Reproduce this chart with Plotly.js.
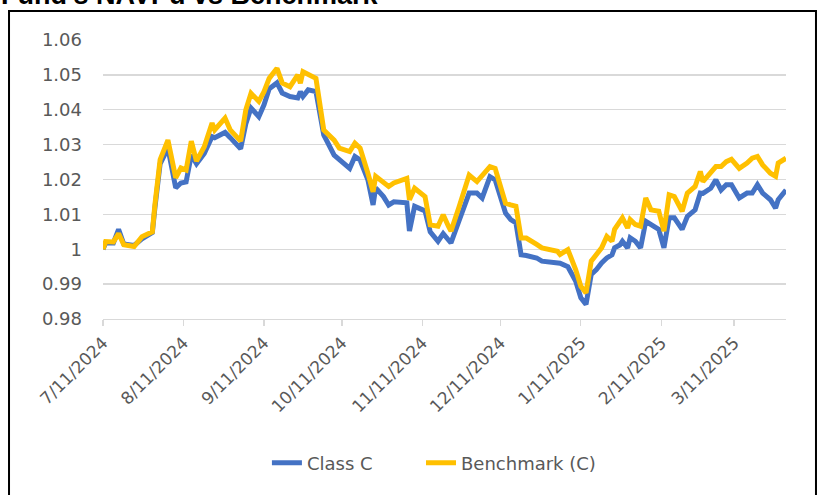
<!DOCTYPE html>
<html>
<head>
<meta charset="utf-8">
<script src="https://cdn.plot.ly/plotly-3.0.1.min.js"></script>
<style>
  html, body { margin: 0; padding: 0; background: #ffffff; }
  #chart { width: 827px; height: 495px; }
</style>
</head>
<body>
<div id="chart"></div>
<script>
const dates = ['2024-07-11','2024-07-12','2024-07-15','2024-07-17','2024-07-19','2024-07-23','2024-07-26','2024-07-30','2024-07-31',
'2024-08-02','2024-08-05','2024-08-08','2024-08-10','2024-08-12','2024-08-14','2024-08-16','2024-08-19','2024-08-22','2024-08-23','2024-08-27','2024-08-29',
'2024-09-02','2024-09-04','2024-09-06','2024-09-09','2024-09-11','2024-09-13','2024-09-16','2024-09-18','2024-09-21','2024-09-24','2024-09-25','2024-09-26','2024-09-28',
'2024-10-01','2024-10-04','2024-10-08','2024-10-10','2024-10-14','2024-10-16','2024-10-18','2024-10-21','2024-10-23','2024-10-24','2024-10-27','2024-10-29','2024-10-31',
'2024-11-05','2024-11-06','2024-11-08','2024-11-12','2024-11-14','2024-11-17','2024-11-19','2024-11-21','2024-11-22','2024-11-25','2024-11-27','2024-11-29',
'2024-12-02','2024-12-04','2024-12-07','2024-12-09','2024-12-13','2024-12-15','2024-12-17','2024-12-19','2024-12-21','2024-12-25','2024-12-27',
'2025-01-02','2025-01-03','2025-01-06','2025-01-09','2025-01-11','2025-01-13','2025-01-15','2025-01-17','2025-01-19','2025-01-21','2025-01-23','2025-01-24','2025-01-26','2025-01-27','2025-01-29','2025-01-30',
'2025-02-01','2025-02-03','2025-02-05','2025-02-07','2025-02-10','2025-02-12','2025-02-14','2025-02-16','2025-02-19','2025-02-21','2025-02-24','2025-02-26','2025-02-27',
'2025-03-02','2025-03-04','2025-03-06','2025-03-08','2025-03-10','2025-03-13','2025-03-16','2025-03-18','2025-03-20','2025-03-22','2025-03-25','2025-03-27','2025-03-28','2025-03-31'];

const classC = [1.000,1.0018,1.0018,1.0057,1.0015,1.0011,1.003,1.0048,1.012,
1.0245,1.029,1.0176,1.019,1.0193,1.027,1.0245,1.0275,1.0323,1.032,1.0335,1.032,
1.0288,1.036,1.0405,1.038,1.0414,1.046,1.0477,1.0448,1.0438,1.0434,1.0452,1.0438,1.0457,
1.0452,1.0328,1.027,1.0256,1.0232,1.0266,1.0256,1.0199,1.0127,1.0176,1.0151,1.0127,1.0136,
1.0133,1.0052,1.0123,1.011,1.005,1.0023,1.0045,1.0028,1.0018,1.008,1.0118,1.0161,
1.0161,1.0147,1.0208,1.0199,1.0104,1.0085,1.0076,0.9984,0.9982,0.9975,0.9966,
0.9961,0.996,0.995,0.9909,0.9861,0.9842,0.9928,0.9942,0.9961,0.9975,0.9984,1.0004,1.0012,1.0023,1.0004,1.0033,
1.0023,1.0004,1.008,1.0071,1.0057,1.0004,1.009,1.009,1.0057,1.0094,1.0113,1.0161,1.016,
1.0175,1.0199,1.017,1.0185,1.0185,1.0147,1.0161,1.0161,1.0185,1.0161,1.0142,1.0118,1.0142,1.017];

const benchmark = [1.000,1.0022,1.0021,1.0045,1.0013,1.0008,1.0036,1.005,1.0128,
1.0257,1.0313,1.0205,1.0233,1.0227,1.031,1.0253,1.0294,1.0362,1.0342,1.0376,1.0342,
1.031,1.040,1.0447,1.0424,1.0452,1.049,1.0519,1.0477,1.0466,1.050,1.0476,1.0509,1.050,
1.049,1.0342,1.0313,1.029,1.028,1.0304,1.029,1.0218,1.0165,1.0209,1.019,1.018,1.019,
1.0203,1.0142,1.0175,1.0151,1.007,1.0066,1.0099,1.0066,1.0052,1.0119,1.017,1.0213,
1.0194,1.021,1.0237,1.0232,1.0132,1.0127,1.0123,1.0032,1.0032,1.0014,1.0004,
0.9994,0.9985,0.9999,0.9942,0.9894,0.9875,0.9966,0.9985,1.0004,1.0037,1.0023,1.0057,1.0076,1.009,1.0061,1.0085,
1.0071,1.0066,1.0147,1.0113,1.0109,1.0052,1.0156,1.0151,1.0109,1.0161,1.018,1.0223,1.0194,
1.0218,1.0237,1.0237,1.0251,1.0258,1.0232,1.0247,1.0261,1.0266,1.0242,1.0218,1.0209,1.0247,1.0261];

const xTickVals = ['2024-07-11','2024-08-11','2024-09-11','2024-10-11','2024-11-11','2024-12-11','2025-01-11','2025-02-11','2025-03-11'];
const xTickText = ['7/11/2024','8/11/2024','9/11/2024','10/11/2024','11/11/2024','12/11/2024','1/11/2025','2/11/2025','3/11/2025'];
const yTickVals = [0.98,0.99,1.00,1.01,1.02,1.03,1.04,1.05,1.06];
const yTickText = ['0.98','0.99','1','1.01','1.02','1.03','1.04','1.05','1.06'];
const seriesNames = ['Class C','Benchmark (C)'];
const chartTitle = "Fund's NAVPu vs Benchmark";

const FONT = 'DejaVu Sans, Liberation Sans, sans-serif';
const GREY = '#595959';

const traces = [
  { x: dates, y: classC, name: seriesNames[0], type: 'scatter', mode: 'lines', legend: 'legend',
    line: { color: '#4472C4', width: 5, shape: 'linear' } },
  { x: dates, y: benchmark, name: seriesNames[1], type: 'scatter', mode: 'lines', legend: 'legend2',
    line: { color: '#FFC000', width: 5, shape: 'linear' } }
];

const legendFont = { family: FONT, size: 18, color: GREY };

const layout = {
  width: 827, height: 495,
  margin: { l: 103, r: 41, t: 40, b: 176 },
  paper_bgcolor: '#ffffff', plot_bgcolor: '#ffffff',
  showlegend: true,
  legend: {
    orientation: 'h', x: 0.24, xanchor: 'left', y: -0.516, yanchor: 'middle',
    font: legendFont, bgcolor: 'rgba(0,0,0,0)'
  },
  legend2: {
    orientation: 'h', x: 0.4656, xanchor: 'left', y: -0.516, yanchor: 'middle',
    font: legendFont, bgcolor: 'rgba(0,0,0,0)'
  },
  xaxis: {
    type: 'date', range: ['2024-07-11', '2025-03-31'],
    tickmode: 'array', tickvals: xTickVals, ticktext: xTickText, tickangle: -45,
    tickfont: { family: FONT, size: 17, color: GREY },
    showgrid: false, zeroline: false,
    showline: true, linecolor: '#d9d9d9', linewidth: 1.2,
    ticks: 'outside', ticklen: 6, tickcolor: '#d9d9d9', tickwidth: 1.2
  },
  yaxis: {
    range: [0.98, 1.06], tickmode: 'array', tickvals: yTickVals, ticktext: yTickText,
    tickfont: { family: FONT, size: 18, color: GREY },
    showgrid: true, gridcolor: '#d9d9d9', gridwidth: 1.3,
    zeroline: false, showline: false, ticks: '', ticklabelstandoff: 20
  },
  annotations: [{
    text: '<b>' + chartTitle + '</b>', xref: 'paper', yref: 'paper',
    x: -0.153, xanchor: 'left', y: 1.1595, yanchor: 'middle', showarrow: false,
    font: { family: 'Liberation Sans, Arial, sans-serif', size: 27, color: '#000000' }
  }],
  shapes: [{
    type: 'rect', xref: 'paper', yref: 'paper',
    x0: -0.1376, x1: 1.0439, y0: -0.66, y1: 1.1039,
    line: { color: '#000000', width: 2 }, fillcolor: 'rgba(0,0,0,0)', layer: 'below'
  }]
};

Plotly.newPlot('chart', traces, layout, { staticPlot: true, displayModeBar: false });
</script>
</body>
</html>
